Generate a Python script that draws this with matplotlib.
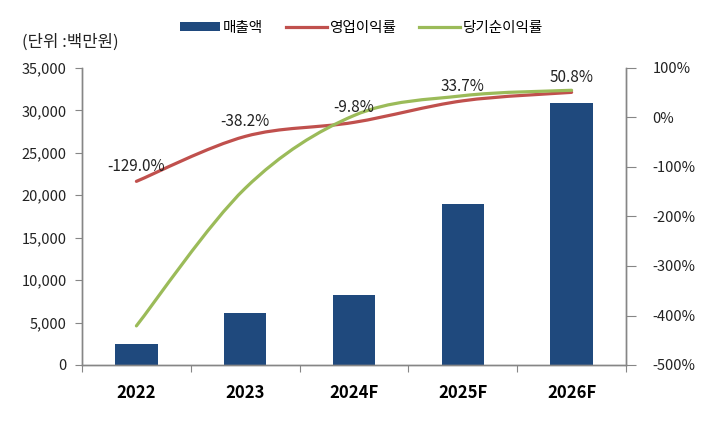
import numpy as np
import matplotlib.pyplot as plt
from matplotlib.path import Path
from matplotlib.patches import PathPatch, Patch
from matplotlib.lines import Line2D
from matplotlib.ticker import FuncFormatter

plt.rcParams['font.family'] = ['Noto Sans CJK KR', 'DejaVu Sans']

# === Data ===
years = ["2022", "2023", "2024F", "2025F", "2026F"]
sales = [2500, 6170, 8290, 18950, 30900]          # 매출액 (백만원)
op_margin = [-129.0, -38.2, -9.8, 33.7, 50.8]      # 영업이익률 (%)
net_margin = [-421.0, -143.0, 4.0, 44.0, 55.0]     # 당기순이익률 (%)

NAVY = "#1F497D"
RED = "#C0504D"
GREEN = "#9BBB59"
AXIS = "#868686"
TXT = "#222222"


def smooth_path(xs, ys):
    # Excel-style smoothed line as cubic bezier segments
    pts = np.column_stack([xs, ys]).astype(float)
    n = len(pts)
    verts = [pts[0]]
    codes = [Path.MOVETO]
    for i in range(n - 1):
        p0 = pts[i - 1] if i > 0 else pts[i]
        p1 = pts[i]
        p2 = pts[i + 1]
        p3 = pts[i + 2] if i + 2 < n else pts[i + 1]
        c1 = p1 + (p2 - p0) / 6.0
        c2 = p2 - (p3 - p1) / 6.0
        verts += [c1, c2, p2]
        codes += [Path.CURVE4] * 3
    return Path(verts, codes)


fig = plt.figure(figsize=(7.08, 4.22), dpi=100)
ax = fig.add_axes([82 / 708, 1 - 365 / 422, (626 - 82) / 708, (365 - 68) / 422])
ax2 = ax.twinx()

x = np.arange(len(years))
ax.bar(x, sales, width=0.39, color=NAVY, zorder=2)

ax.set_xlim(-0.5, len(years) - 0.5)
ax.set_ylim(0, 35000)
ax.set_yticks(np.arange(0, 35001, 5000))
ax.yaxis.set_major_formatter(FuncFormatter(lambda v, p: f"{int(v):,}"))

ax.set_xticks(np.arange(-0.5, len(years), 1.0))
ax.set_xticklabels([])
ax.set_xticks(x, minor=True)
ax.set_xticklabels(years, minor=True, fontsize=12, fontweight="bold", color="black")
ax.tick_params(axis="x", which="major", length=5, color=AXIS, direction="out")
ax.tick_params(axis="x", which="minor", length=0, pad=14)
ax.tick_params(axis="y", length=5, color=AXIS, labelsize=10.5, labelcolor=TXT, pad=6)

ax2.set_ylim(-500, 100)
ax2.set_yticks(np.arange(-500, 101, 100))
ax2.yaxis.set_major_formatter(FuncFormatter(lambda v, p: f"{int(v)}%"))
ax2.tick_params(axis="y", length=7, color=AXIS, labelsize=10.5, labelcolor=TXT, pad=12)

for a in (ax, ax2):
    a.spines["top"].set_visible(False)
    for s in ("left", "right", "bottom"):
        a.spines[s].set_color(AXIS)
        a.spines[s].set_linewidth(1.0)

ax2.add_patch(PathPatch(smooth_path(x, op_margin), fill=False, edgecolor=RED,
                        linewidth=2.3, capstyle="round", zorder=3))
ax2.add_patch(PathPatch(smooth_path(x, net_margin), fill=False, edgecolor=GREEN,
                        linewidth=2.3, capstyle="round", zorder=4))

for xi, v in zip(x, op_margin):
    ax2.annotate(f"{v:.1f}%", (xi, v), xytext=(0, 10.5), textcoords="offset points",
                 ha="center", va="center", fontsize=11, color=TXT, zorder=5)

handles = [
    Patch(facecolor=NAVY, edgecolor="none"),
    Line2D([], [], color=RED, linewidth=2.3),
    Line2D([], [], color=GREEN, linewidth=2.3),
]
fig.legend(handles, ["매출액", "영업이익률", "당기순이익률"], loc="center",
           bbox_to_anchor=(361 / 708, 1 - 28 / 422), ncol=3, frameon=False,
           fontsize=10.5, handlelength=2.8, handleheight=0.55, handletextpad=0.15,
           columnspacing=1.6)

fig.text(22 / 708, 1 - 42 / 422, "(단위 :백만원)", fontsize=12, color=TXT,
         ha="left", va="center")

fig.savefig("out.png", dpi=100)
